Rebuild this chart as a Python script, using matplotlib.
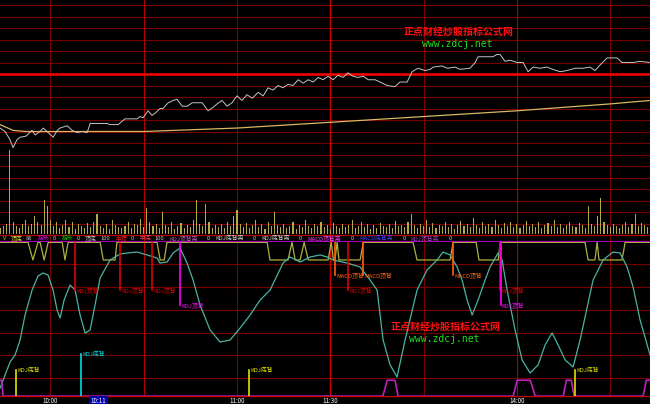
import matplotlib
matplotlib.use("Agg")
import matplotlib.pyplot as plt
import numpy as np

plt.rcParams['font.family'] = ['Noto Sans CJK SC', 'DejaVu Sans']

# trading minutes since 9:30 (13:00 continues at 120)
price_t = [13.8, 15.4, 17.0, 18.0, 19.3, 20.3, 22.2, 24.1, 25.1, 26.7, 27.7, 29.3, 30.9, 32.2, 33.1,
           35.4, 37.0, 38.6, 40.2, 41.8, 42.8, 43.7, 48.2, 49.2, 51.8, 53.1, 54.0, 57.9, 58.8, 59.8,
           61.4, 62.7, 63.7, 65.3, 66.2, 67.9, 69.5, 70.7, 72.4, 74.0, 75.6, 78.8, 80.7, 82.3, 83.6,
           85.2, 86.8, 88.4, 90.0, 91.6, 93.2, 94.9, 96.8, 98.4, 100.0, 101.6, 103.2, 104.8, 106.4,
           108.0, 109.7, 111.3, 112.9, 114.5, 116.1, 117.7, 119.3, 120.9, 122.5, 124.1, 125.7, 127.3,
           128.9, 130.6, 132.2, 134.4, 136.0, 138.3, 140.8, 142.4, 144.7, 146.3, 148.2, 150.5, 152.1,
           153.1, 155.9, 157.6, 160.1, 161.7, 164.9, 166.6, 167.5, 172.3, 173.6, 174.6, 176.2, 177.8,
           180.1, 182.0, 183.6, 185.2, 187.5, 189.7, 191.6, 193.9, 196.1, 198.7, 201.3, 203.5, 205.1,
           206.8, 209.0, 212.2, 213.8, 217.4, 219.6, 222.8]
price_v = [19.53, 19.50, 19.43, 19.36, 19.43, 19.45, 19.46, 19.51, 19.47, 19.50, 19.53, 19.49, 19.45, 19.51, 19.53,
           19.55, 19.51, 19.49, 19.50, 19.49, 19.57, 19.57, 19.57, 19.56, 19.56, 19.59, 19.61, 19.61, 19.63, 19.62,
           19.68, 19.64, 19.66, 19.70, 19.70, 19.75, 19.77, 19.78, 19.72, 19.72, 19.75, 19.75, 19.68, 19.71, 19.74,
           19.77, 19.72, 19.75, 19.81, 19.77, 19.82, 19.79, 19.84, 19.81, 19.88, 19.86, 19.90, 19.88, 19.91,
           19.90, 19.95, 19.92, 19.95, 19.93, 19.97, 19.95, 19.98, 19.95, 19.99, 19.97, 20.01, 19.98,
           19.97, 19.98, 19.95, 19.95, 19.93, 19.90, 19.89, 19.93, 19.93, 20.02, 20.05, 20.03, 20.04,
           20.06, 20.07, 20.05, 20.06, 20.04, 20.05, 20.10, 20.15, 20.15, 20.17, 20.17, 20.11, 20.12,
           20.10, 20.10, 20.02, 20.06, 20.05, 20.06, 20.04, 20.02, 20.03, 20.05, 20.05, 20.06, 20.03,
           20.08, 20.14, 20.14, 20.10, 20.10, 20.11, 20.10]
avg_t = [13.8, 18.0, 22.0, 60.0, 90.0, 120.0, 150.0, 180.0, 210.0, 222.8]
avg_v = [19.56, 19.51, 19.50, 19.50, 19.53, 19.58, 19.63, 19.68, 19.74, 19.77]
prev_close = 20.00

vol_start = 14
volume = [6, 8, 10, 84, 12, 8, 6, 10, 14, 8,
          10, 18, 12, 9, 34, 28, 14, 8, 12, 6,
          9, 14, 7, 12, 5, 10, 8, 6, 11, 7,
          12, 20, 8, 6, 10, 5, 14, 9, 7, 6,
          8, 12, 6, 10, 9, 15, 7, 26, 12, 8,
          10, 6, 22, 9, 7, 12, 5, 8, 11, 6,
          9, 7, 14, 34, 10, 8, 30, 12, 6, 9,
          7, 10, 6, 12, 8, 18, 24, 10, 7, 11,
          6, 9, 14, 7, 10, 5, 12, 8, 22, 9,
          7, 10, 6, 8, 12, 5, 9, 7, 14, 8,
          6, 10, 8, 12, 7, 9, 5, 11, 8, 6,
          10, 7, 9, 14, 6, 8, 12, 7, 10, 5,
          9, 6, 11, 8, 7, 10, 6, 13, 8, 9,
          7, 12, 20, 9, 6, 10, 8, 14, 7, 11,
          6, 9, 8, 12, 7, 10, 5, 9, 13, 8,
          10, 7, 16, 9, 6, 12, 8, 10, 7, 14,
          9, 6, 11, 8, 12, 7, 10, 6, 9, 13,
          8, 10, 7, 12, 6, 9, 11, 8, 14, 7,
          10, 6, 9, 12, 8, 7, 11, 9, 6, 28,
          10, 8, 18, 36, 12, 9, 7, 10, 8, 6,
          9, 12, 7, 10, 20, 8, 11, 9, 7]

# yellow state line (HI / LO)
HI, LO = 119.5, 104
sig_t = [13.8, 22.8, 24.4, 26.0, 26.7, 28.0, 29.3, 33.8, 34.7, 35.7,
         46.0, 47.0, 50.8, 51.4, 64.3, 65.3, 66.6, 67.5, 99.7, 100.6,
         106.4, 107.7, 108.7, 110.3, 111.6, 112.9, 119.3, 120.3, 121.0, 121.5,
         122.2, 122.8, 129.6, 130.6, 146.6, 147.9, 158.5, 159.5, 166.9, 167.8,
         174.0, 174.6, 201.9, 202.9, 205.1, 205.8, 206.4, 213.8, 214.8, 222.8]
sig_v = [HI, HI, LO, HI, HI, LO, HI, HI, LO, HI,
         HI, LO, LO, HI, HI, LO, LO, HI, HI, LO,
         LO, HI, LO, LO, HI, LO, LO, HI, LO, LO,
         HI, LO, LO, HI, HI, LO, LO, HI, HI, LO,
         LO, HI, HI, LO, LO, HI, LO, LO, HI, HI]

# oscillator
osc_t = [13.83, 15.43, 17.04, 18.65, 20.26, 21.86, 24.12, 26.05, 27.65, 29.26,
         30.87, 32.15, 33.12, 34.41, 36.33, 37.94, 39.55, 41.16, 42.77, 44.37,
         45.98, 49.20, 52.41, 54.66, 57.88, 61.09, 64.31, 65.27, 67.52, 69.45,
         71.70, 73.95, 75.88, 78.14, 81.35, 84.57, 87.78, 91.00, 94.21, 97.43,
         100.64, 104.82, 107.07, 110.29, 113.50, 116.72, 118.97, 120.90, 125.40, 129.58,
         132.80, 135.05, 136.98, 139.23, 141.48, 144.05, 147.91, 151.13, 154.34, 156.27,
         158.52, 160.77, 162.38, 163.99, 165.59, 167.52, 169.77, 171.38, 173.95, 175.24,
         176.85, 179.42, 181.67, 184.24, 186.82, 189.07, 191.32, 193.25, 195.50, 198.07,
         200.32, 204.50, 207.72, 210.93, 213.18, 215.43, 217.36, 219.61, 222.83]
osc_v = [-8.8, 2.6, 14.1, 20.3, 33.5, 55.5, 77.5, 89.9, 92.5, 90.7,
         77.5, 59.9, 52.9, 68.7, 81.9, 77.5, 55.5, 39.6, 42.3, 64.3,
         88.1, 104, 109.3, 110.1, 111, 108.4, 105.7, 101.3, 102.2, 110.1,
         114.5, 101.3, 86.3, 64.3, 42.3, 31.7, 33.5, 44, 55.5, 68.7,
         77.5, 101.3, 106.6, 102.2, 106.6, 108.4, 106.6, 104, 101.3, 97.8,
         86.3, 77.5, 33.5, 11.5, 0.9, 33.5, 77.5, 95.2, 104, 111,
         108.4, 97.8, 86.3, 68.7, 55.5, 68.7, 86.3, 97.8, 110.1, 104,
         77.5, 42.3, 15.9, 4.4, 11.5, 29.1, 39.6, 29.1, 15.9, 9.7,
         33.5, 86.3, 104, 111, 110.1, 97.8, 80.2, 51.1, 20.3]

# magenta state line at the bottom
low_t = [13.8, 14.3, 14.8, 136.9, 138.3, 140.8, 141.8, 178.8, 180.1, 184.3, 185.9,
         194.9, 195.9, 197.5, 198.4, 220.6, 221.6, 222.8]
low_v = [-2, -2, -16, -16, -2, -2, -16, -16, -2, -2, -16,
         -16, -2, -2, -16, -16, -2, -2]

# divergence markers: time, label, colour, end value
top_marks = [(37.9, "KDJ顶背", "#e00000", 77.5), (52.4, "KDJ顶背", "#e00000", 77.5),
             (62.7, "KDJ顶背", "#e00000", 77.5), (71.7, "KDJ顶背", "#ff00ff", 64.3),
             (121.5, "MACD顶背", "#ff6010", 90.7), (125.7, "KDJ顶背", "#e00000", 77.5),
             (130.6, "MACD顶背", "#ff6010", 90.7), (159.5, "MACD顶背", "#ff6010", 90.7),
             (174.6, "KDJ顶背", "#e00000", 77.5), (174.8, "KDJ顶背", "#ff00ff", 64.3)]
bot_marks = [(19.0, "KDJ底背", "#e0e000", 7), (39.9, "KDJ底背", "#00e0e0", 21),
             (93.9, "KDJ底背", "#e0e000", 7), (198.7, "KDJ底背", "#e0e000", 7)]

header = [("V", "#c0c040"), ("顶底", "#e0e040"), ("86", "#c0c0c0"), ("拐头", "#e000e0"), ("0", "#c0c0c0"),
          ("拐头", "#00c000"), ("0", "#c0c0c0"), ("顶底", "#c0c0c0"), ("100", "#c0c0c0"),
          ("中顶", "#ff2020"), ("0", "#c0c0c0"), ("中底", "#ff4060"), ("100", "#c0c0c0"),
          ("KDJ顶背离", "#c060c0"), ("0", "#c0c0c0"), ("KDJ底背离", "#d0d0d0"), ("0", "#c0c0c0"),
          ("KDJ底背离", "#d0d0d0"), ("0", "#c0c0c0"), ("MACD顶背离", "#ff40ff"), ("0", "#c0c0c0"),
          ("MACD底背离", "#4040ff"), ("0", "#c0c0c0"), ("KDJ顶背离", "#a040c0"), ("0", "#c0c0c0")]

tick_t = [30, 90, 120, 180]
tick_lab = ["10:00", "11:00", "11:30", "14:00"]
cursor_t, cursor_lab = 41, "10:11"

X0, X1 = 13.8, 222.8
W, H = 650, 404
GRID = "#780000"
GRID_HI = "#b00000"
vlines = [30, 60, 90, 120, 150, 180, 210]
vbright = [60, 120, 180]

fig = plt.figure(figsize=(6.5, 4.04), dpi=100, facecolor="black")


def band(top, bottom):
    ax = fig.add_axes([0, 1 - bottom / H, 1, (bottom - top) / H])
    ax.set_xlim(X0, X1)
    ax.set_facecolor("black")
    ax.set_xticks([])
    ax.set_yticks([])
    for s in ax.spines.values():
        s.set_visible(False)
    return ax


def vgrid(ax):
    for v in vlines:
        if v == 120:
            ax.axvline(v, color="#d00000", lw=1.0)
        else:
            ax.axvline(v, color=GRID_HI if v in vbright else GRID, lw=0.8)


# price + volume area
axp = band(0, 234)
axp.set_ylim(prev_close - 160 / 115, prev_close + 74 / 115)
for k in range(-13, 7):
    if k == 0:
        continue
    axp.axhline(prev_close + k * 0.1, color=GRID, lw=0.8)
vgrid(axp)
axp.axhline(prev_close, color="#ff0000", lw=1.8)

axv = band(140, 234)
axv.patch.set_alpha(0)
axv.set_ylim(0, 94)
axv.bar(np.arange(vol_start, vol_start + len(volume)), volume, width=0.35, color="#b4a848")

axp.plot(avg_t, avg_v, color="#d8b860", lw=0.9, zorder=3)
axp.plot(price_t, price_v, color="#c4c4c4", lw=0.7, zorder=4)

axp.text(0.705, 0.863, "正点财经炒股指标公式网", transform=axp.transAxes, color="#ff1010",
         fontsize=7.2, fontweight="bold", ha="center", va="center", zorder=6)
axp.text(0.703, 0.812, "www.zdcj.net", transform=axp.transAxes, color="#20e020",
         fontsize=7.0, family="DejaVu Sans Mono", ha="center", va="center", zorder=6)

# header row
axh = band(234, 242)
axh.set_ylim(0, 1)
axh.axhline(0.9, color="#c00000", lw=0.8)
axh.axhline(0.0, color="#a000b0", lw=1.6)
xpos = 0.004
for txt, col in header:
    axh.text(xpos, 0.45, txt, transform=axh.transAxes, color=col, fontsize=4.2,
             ha="left", va="center")
    xpos += (len(txt) * 3.4 + 5) / W if txt.isascii() else (len(txt) * 5.6 + 4) / W
vgrid(axh)

# indicator area
axi = band(242, 396)
axi.set_ylim(-15.86, 119.82)
for k in range(0, 101, 20):
    axi.axhline(k, color=GRID, lw=0.8)
vgrid(axi)
axi.plot(sig_t, sig_v, color="#b0b040", lw=0.9, zorder=3)
axi.plot(osc_t, osc_v, color="#4ab4a4", lw=0.9, zorder=4)
axi.plot(low_t, low_v, color="#c020c0", lw=1.2, zorder=4)
for t, lab, col, end in top_marks:
    axi.plot([t, t], [119.82, end], color=col, lw=1.2, zorder=5)
    axi.text(t + 0.3, end, lab, color=col, fontsize=4.2, ha="left", va="center", zorder=6)
for t, lab, col, end in bot_marks:
    axi.plot([t, t], [-15.86, end], color=col, lw=1.2, zorder=5)
    axi.text(t + 0.3, end, lab, color=col, fontsize=4.2, ha="left", va="center", zorder=6)
axi.text(0.685, 0.45, "正点财经炒股指标公式网", transform=axi.transAxes, color="#ff1010",
         fontsize=7.2, fontweight="bold", ha="center", va="center", zorder=6)
axi.text(0.683, 0.37, "www.zdcj.net", transform=axi.transAxes, color="#20e020",
         fontsize=7.0, family="DejaVu Sans Mono", ha="center", va="center", zorder=6)

# time axis strip
axt = band(396, 404)
axt.set_ylim(0, 1)
axt.axhline(0.98, color="#d00000", lw=1.0)
for t, lab in zip(tick_t, tick_lab):
    axt.text(t, 0.35, lab, color="white", fontsize=4.5, ha="center", va="center")
axt.text(cursor_t + 4.5, 0.35, cursor_lab, color="white", fontsize=4.5, ha="center", va="center",
         bbox=dict(facecolor="#0000a8", edgecolor="none", pad=1.2))

fig.savefig("out.png", dpi=100, facecolor="black")
